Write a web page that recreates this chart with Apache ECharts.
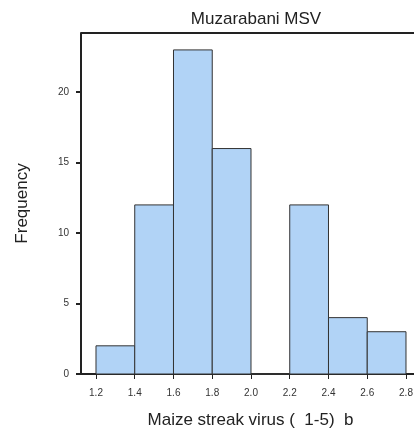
<!DOCTYPE html>
<html><head><meta charset="utf-8">
<script src="https://cdn.jsdelivr.net/npm/echarts@6/dist/echarts.min.js"></script>
<style>html,body{margin:0;padding:0;background:#fff}#c{width:414px;height:434px}</style>
</head><body><div id="c"></div>
<script>
var binStarts = [1.2, 1.4, 1.6, 1.8, 2.0, 2.2, 2.4, 2.6];
var binWidth = 0.2;
var frequencies = [2, 12, 23, 16, 0, 12, 4, 3];
var xTicks = [1.2, 1.4, 1.6, 1.8, 2.0, 2.2, 2.4, 2.6, 2.8];
var yTicks = [0, 5, 10, 15, 20];

var data = binStarts.map(function (s, i) { return [s, s + binWidth, frequencies[i]]; });
var chart = echarts.init(document.getElementById('c'));
chart.setOption({
  animation: false,
  title: {text: 'Muzarabani MSV', left: 251, top: 6, textAlign: 'center',
    textStyle: {fontFamily: 'Liberation Sans', fontSize: 17, fontWeight: 'normal', color: '#222'}},
  grid: {left: 81, right: 0, top: 33, bottom: 60, containLabel: false, outerBoundsMode: 'none'},
  xAxis: {type: 'value', min: 1.1226, max: 2.8413,
    name: 'Maize streak virus (  1-5)  b', nameLocation: 'middle', nameGap: 38,
    nameTextStyle: {fontFamily: 'Liberation Sans', fontSize: 17, color: '#222', padding: [0, 0, 0, 6]},
    axisLine: {show: true, lineStyle: {color: '#222', width: 2}},
    axisTick: {show: true, length: 5, lineStyle: {color: '#222', width: 1}, customValues: xTicks},
    axisLabel: {fontFamily: 'Liberation Sans', fontSize: 10, color: '#333', margin: 14, customValues: xTicks,
      formatter: function (v) { return v.toFixed(1); }},
    splitLine: {show: false}},
  yAxis: {type: 'value', min: 0, max: 24.2,
    name: 'Frequency', nameLocation: 'middle', nameGap: 50, nameRotate: 90,
    nameTextStyle: {fontFamily: 'Liberation Sans', fontSize: 17, color: '#222'},
    axisLine: {show: true, lineStyle: {color: '#222', width: 2}},
    axisTick: {show: true, length: 5, lineStyle: {color: '#222', width: 2}, customValues: yTicks},
    axisLabel: {fontFamily: 'Liberation Sans', fontSize: 10, color: '#333', margin: 12, customValues: yTicks},
    splitLine: {show: false}},
  series: [{
    type: 'custom', data: data,
    renderItem: function (params, api) {
      var p0 = api.coord([api.value(0), api.value(2)]);
      var p1 = api.coord([api.value(1), 0]);
      return {type: 'rect', shape: {x: p0[0], y: p0[1], width: p1[0] - p0[0], height: p1[1] - p0[1]},
        style: {fill: '#b1d3f6', stroke: '#333', lineWidth: 1}};
    }
  }, {
    type: 'line', data: [], markLine: {silent: true, symbol: 'none', lineStyle: {color: '#222', width: 2, type: 'solid'}, label: {show: false},
      data: [{yAxis: 24.2}]}
  }]
});
</script></body></html>
